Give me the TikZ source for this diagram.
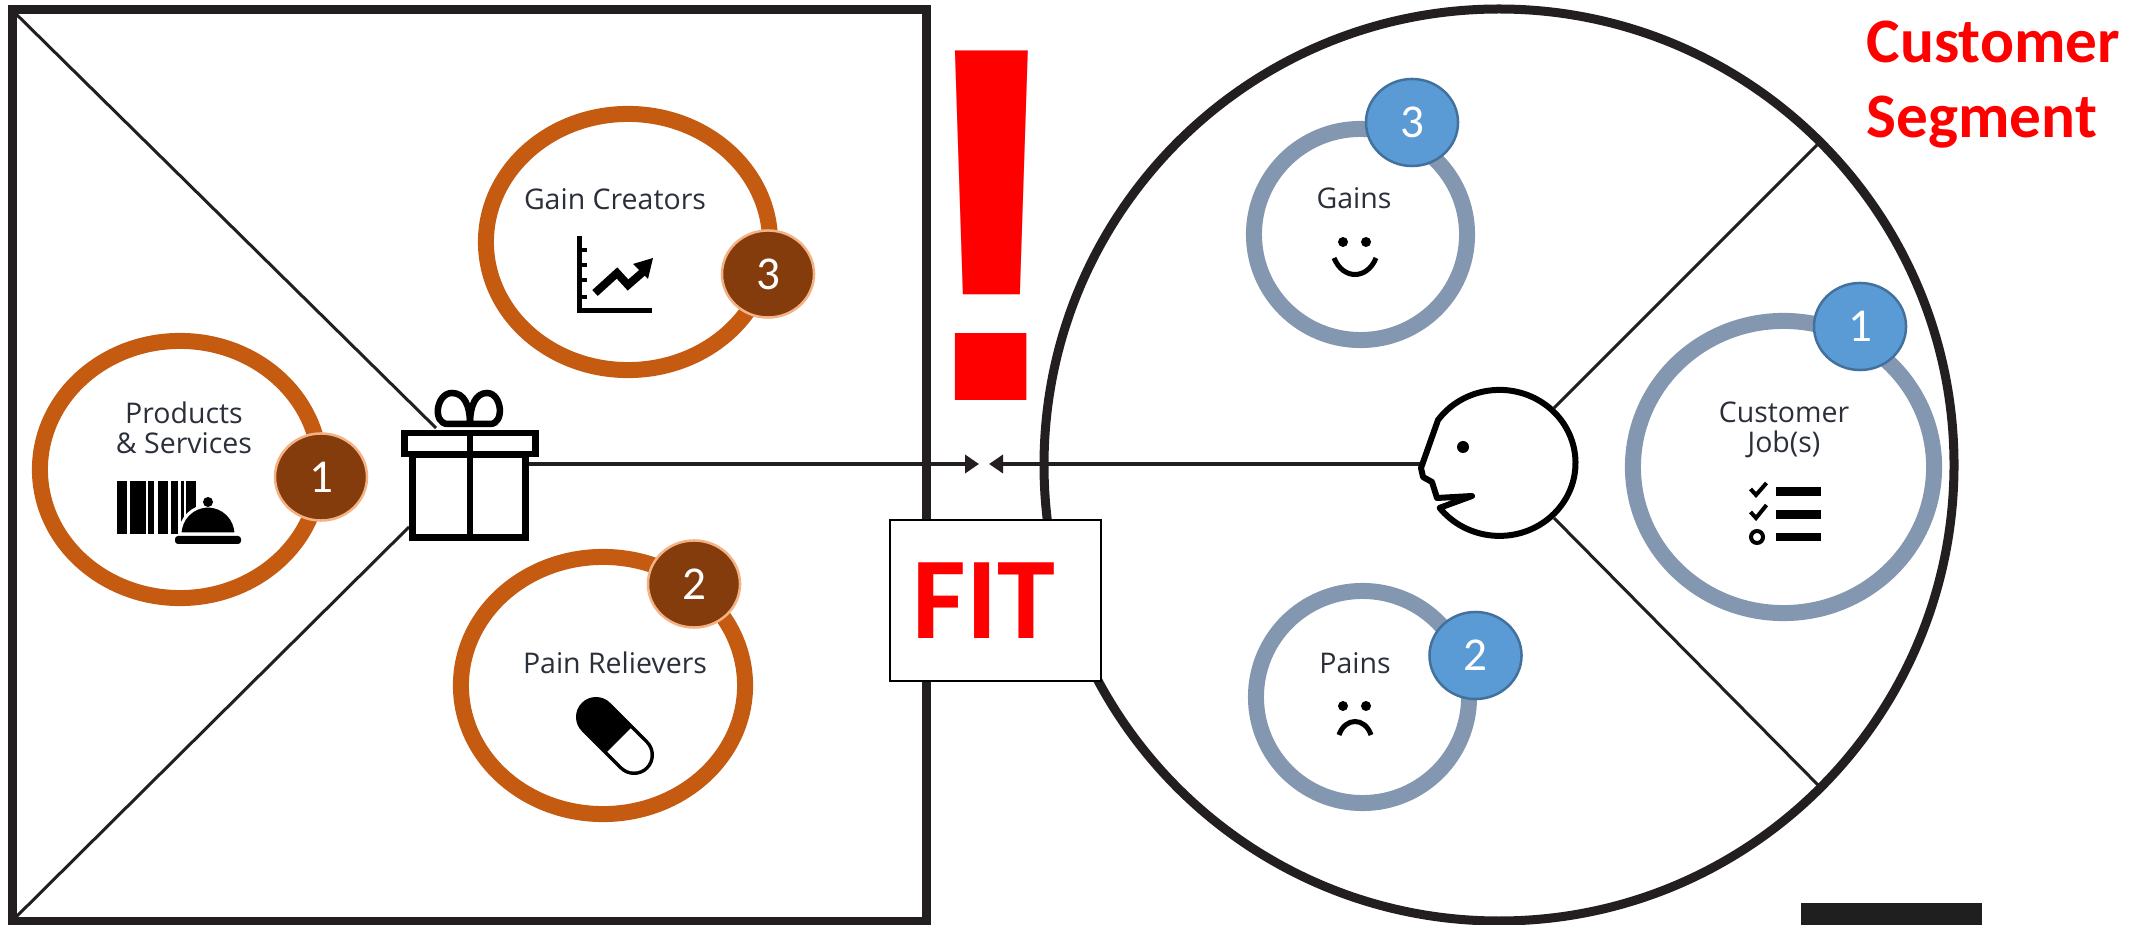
\documentclass[tikz,border=0pt]{standalone}
\usepackage{fontspec}
\setmainfont{Carlito}
\newfontfamily\canvasfont{Open Sans}
\newfontfamily\bangfont{Liberation Sans}
\usetikzlibrary{shapes.geometric, arrows.meta}

\definecolor{framedark}{HTML}{231F20}
\definecolor{ringbrown}{HTML}{C55A11}
\definecolor{badgebrown}{HTML}{843C0C}
\definecolor{edgebrown}{HTML}{F4B183}
\definecolor{ringblue}{HTML}{8497B0}
\definecolor{badgeblue}{HTML}{5B9BD5}
\definecolor{edgeblue}{HTML}{41719C}
\definecolor{labelink}{HTML}{2B2F3A}

\tikzset{
  frameline/.style={draw=framedark, line width=0.09cm},
  divider/.style={draw=framedark, line width=0.03cm},
  linkline/.style={draw=framedark, line width=0.035cm, ->},
  icon/.style={draw=black, line width=0.065cm},
  ring/.style={ellipse, inner sep=0pt, fill=white, line width=0.16cm},
  ringoffer/.style={ring, draw=ringbrown},
  ringcustomer/.style={ring, draw=ringblue},
  badge/.style={ellipse, inner sep=0pt, minimum width=0.92cm, minimum height=0.87cm,
    text=white, font=\fontsize{13.4}{14}\selectfont},
  badgeoffer/.style={badge, fill=badgebrown, draw=edgebrown, line width=0.025cm},
  badgecustomer/.style={badge, fill=badgeblue, draw=edgeblue, line width=0.025cm},
  canvaslabel/.style={text=labelink, align=center, inner sep=0pt,
    font=\canvasfont\fontsize{8.1}{8.6}\selectfont},
  shout/.style={text=red, inner sep=0pt, font=\bfseries}
}

\begin{document}
\begin{tikzpicture}[x=0.01cm, y=-0.01cm, >={Stealth[length=0.14cm, width=0.18cm, inset=0pt]}]
  \useasboundingbox (0,0) rectangle (2149,925);
  \fill[white] (0,0) rectangle (2149,925);

  % Named points for the connectors
  \coordinate (sqtl) at (12,10);
  \coordinate (sqbl) at (12,921);
  \coordinate (giftneck) at (436,428);
  \coordinate (giftfoot) at (409,527);
  \coordinate (giftside) at (529,464);
  \coordinate (fitwest) at (979,464);
  \coordinate (fiteast) at (989,464);
  \coordinate (facewest) at (1421,464);
  \coordinate (headne) at (1554,408);
  \coordinate (headse) at (1554,518);
  \coordinate (rimne) at (1818,144);
  \coordinate (rimse) at (1818,785);

  % Square and big circle
  \draw[frameline] (12.5,10) rectangle (926,921);
  \draw[frameline] (1499,465) ellipse (455 and 456);

  % Dividers
  \draw[divider] (sqtl) -- (giftneck);
  \draw[divider] (sqbl) -- (giftfoot);
  \draw[divider] (headne) -- (rimne);
  \draw[divider] (headse) -- (rimse);

  % Arrows meeting in the middle
  \draw[linkline] (giftside) -- (fitwest);
  \draw[linkline] (facewest) -- (fiteast);

  % Offer rings
  \node[ringoffer, minimum width=2.80cm, minimum height=2.57cm] (products) at (180,469.5) {};
  \node[badgeoffer] (productsbadge) at (321,477) {1};
  \node[ringoffer, minimum width=2.84cm, minimum height=2.56cm] (creators) at (628,242) {};
  \node[badgeoffer] (creatorsbadge) at (768,274) {3};
  \node[ringoffer, minimum width=2.84cm, minimum height=2.57cm] (relievers) at (603,685.5) {};
  \node[badgeoffer] (relieversbadge) at (694,584) {2};

  % Customer rings
  \node[ringcustomer, minimum width=2.13cm, minimum height=2.11cm] (gains) at (1360.5,234.5) {};
  \node[badgecustomer] (gainsbadge) at (1412,122.5) {3};
  \node[ringcustomer, minimum width=2.13cm, minimum height=2.12cm] (pains) at (1362.5,697) {};
  \node[badgecustomer] (painsbadge) at (1475.5,655.5) {2};
  \node[ringcustomer, minimum width=3.01cm, minimum height=2.92cm] (jobs) at (1783.5,467) {};
  \node[badgecustomer] (jobsbadge) at (1860,326.5) {1};

  % Ring labels
  \node[canvaslabel] (productslabel) at (184,428) {Products\\\& Services};
  \node[canvaslabel] (creatorslabel) at (615,199) {Gain Creators};
  \node[canvaslabel] (relieverslabel) at (615,663) {Pain Relievers};
  \node[canvaslabel] (gainslabel) at (1354,198) {Gains};
  \node[canvaslabel] (painslabel) at (1355,663) {Pains};
  \node[canvaslabel] (jobslabel) at (1784,430) {Customer\\Job(s)};

  % Barcode and bell
  \foreach \a/\b in {117/127, 130/146, 148/154, 158/168, 171/177.5, 181/184, 186/196}
    \fill[black] (\a,481) rectangle (\b,534);
  \fill[black, draw=white, line width=0.03cm] (180,534) arc (180:360:28 and 28) -- cycle;
  \fill[black] (208,502) circle (5);
  \fill[black, rounded corners=0.03cm] (175,536) rectangle (241,544);

  % Chart with rising arrow
  \fill[black] (577,236) rectangle (582,313);
  \fill[black] (577,308) rectangle (652,313);
  \foreach \tick in {250,265,280,297}
    \fill[black] (582,\tick-2) rectangle (587,\tick+2);
  \draw[black, line width=0.08cm] (595,293) -- (617,273) -- (628,285) -- (643,272);
  \fill[black] (633,264) -- (653,258) -- (648,279) -- cycle;

  % Capsule
  \draw[black, line width=0.40cm, line cap=round] (596,717) -- (634,755);
  \draw[white, line width=0.33cm] (619,740) -- (634,755);
  \fill[white] (634,755) circle (16.5);

  % Smile and frown
  \fill[black] (1343,242) circle (5) (1366,242) circle (5);
  \draw[black, line width=0.05cm] (1334,258) .. controls (1343,280) and (1367,280) .. (1376,258);
  \fill[black] (1343,706) circle (5) (1366,706) circle (5);
  \draw[black, line width=0.05cm] (1339,735) .. controls (1345,717) and (1365,717) .. (1371,735);

  % Checklist
  \draw[black, line width=0.04cm] (1750.5,489) -- (1756,495) -- (1766.5,483);
  \draw[black, line width=0.04cm] (1750.5,512) -- (1756,518) -- (1766.5,505);
  \draw[black, line width=0.04cm] (1757,537) circle (6);
  \fill[black] (1776,487) rectangle (1821,496);
  \fill[black] (1776,510) rectangle (1821,519);
  \fill[black] (1776,533) rectangle (1821,541);

  % Gift
  \draw[icon] (470,424) -- (448,424) .. controls (432,424) and (436,393) .. (452,393) .. controls (464,393) and (470,405) .. (470,424);
  \draw[icon] (470,424) -- (490,424) .. controls (505,424) and (502,393) .. (487,393) .. controls (476,393) and (470,405) .. (470,424);
  \node[rectangle, icon, fill=white, inner sep=0pt, minimum width=1.13cm, minimum height=0.83cm] (gift) at (469,496) {};
  \node[rectangle, icon, fill=white, inner sep=0pt, minimum width=1.31cm, minimum height=0.21cm] (giftlid) at (470,443.5) {};
  \draw[icon] (giftlid.north) -- (gift.south -| giftlid.north);

  % Head
  \draw[black, line width=0.06cm, line join=round, fill=white] (1438,420) arc (216:502:76 and 73)
    -- (1472,496) -- (1437,498) -- (1432,482) -- (1423,477) -- (1421,468) -- cycle;
  \fill[black] (1463,447) circle (6);

  % FIT box and red words
  \node[rectangle, draw=black, fill=white, line width=0.02cm, inner sep=0pt, minimum width=2.11cm, minimum height=1.61cm] (fitbox) at (995.5,600.5) {};
  \node[shout, anchor=base, font=\bfseries\fontsize{33.2}{33.2}\selectfont] (fitlabel) at (984,639) {FIT};
  \node[shout, anchor=base, font=\bangfont\bfseries\fontsize{144.5}{144.5}\selectfont] (bang) at (992,401) {!};
  \node[shout, anchor=north west, align=left, font=\bfseries\fontsize{18}{21.3}\selectfont] (segment) at (1866,20) {Customer\\Segment};

  % Dark block cut by the lower edge
  \fill[black!88] (1801,903) rectangle (1982,925);
\end{tikzpicture}
\end{document}
